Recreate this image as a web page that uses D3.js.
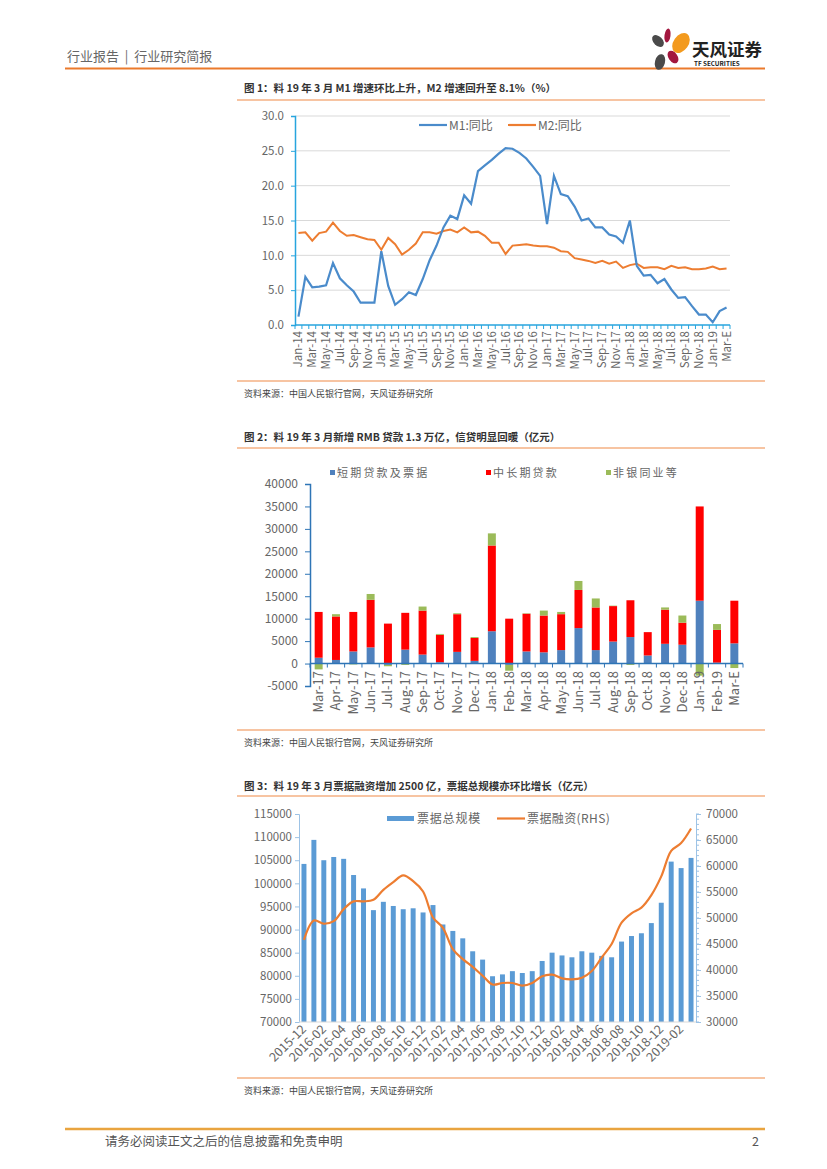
<!DOCTYPE html>
<html><head><meta charset="utf-8">
<script src="https://cdn.jsdelivr.net/npm/d3@7"></script>
<style>
body{margin:0;background:#fff}
svg{display:block}
text{font-family:"Noto Sans CJK SC","Noto Sans",sans-serif}
</style>
</head><body>
<svg id="c" width="827" height="1169"></svg>
<script>
// ---------- Chart 1 data ----------
const c1Months = ["Jan-14","Feb-14","Mar-14","Apr-14","May-14","Jun-14","Jul-14","Aug-14","Sep-14","Oct-14","Nov-14","Dec-14",
"Jan-15","Feb-15","Mar-15","Apr-15","May-15","Jun-15","Jul-15","Aug-15","Sep-15","Oct-15","Nov-15","Dec-15",
"Jan-16","Feb-16","Mar-16","Apr-16","May-16","Jun-16","Jul-16","Aug-16","Sep-16","Oct-16","Nov-16","Dec-16",
"Jan-17","Feb-17","Mar-17","Apr-17","May-17","Jun-17","Jul-17","Aug-17","Sep-17","Oct-17","Nov-17","Dec-17",
"Jan-18","Feb-18","Mar-18","Apr-18","May-18","Jun-18","Jul-18","Aug-18","Sep-18","Oct-18","Nov-18","Dec-18",
"Jan-19","Feb-19","Mar-E"];
const m1Values = [1.2,6.9,5.4,5.5,5.7,8.9,6.7,5.7,4.8,3.2,3.2,3.2,
10.6,5.6,2.9,3.7,4.7,4.3,6.6,9.3,11.4,14.0,15.7,15.2,
18.6,17.4,22.1,22.9,23.7,24.6,25.4,25.3,24.7,23.9,22.7,21.4,
14.5,21.4,18.8,18.5,17.0,15.0,15.3,14.0,14.0,13.0,12.7,11.8,
15.0,8.5,7.1,7.2,6.0,6.6,5.1,3.9,4.0,2.7,1.5,1.5,
0.4,2.0,2.5];
const m2Values = [13.2,13.3,12.1,13.2,13.4,14.7,13.5,12.8,12.9,12.6,12.3,12.2,
10.8,12.5,11.6,10.1,10.8,11.7,13.3,13.3,13.1,13.5,13.7,13.3,
14.0,13.3,13.4,12.8,11.8,11.8,10.2,11.4,11.5,11.6,11.4,11.3,
11.3,11.1,10.6,10.5,9.6,9.4,9.2,8.9,9.2,8.8,9.1,8.2,
8.6,8.8,8.2,8.3,8.3,8.0,8.5,8.2,8.3,8.0,8.0,8.1,
8.4,8.0,8.1];
const c1Ticks = [0,5,10,15,20,25,30];

// ---------- Chart 2 data ----------
const c2Months = ["Mar-17","Apr-17","May-17","Jun-17","Jul-17","Aug-17","Sep-17","Oct-17","Nov-17","Dec-17",
"Jan-18","Feb-18","Mar-18","Apr-18","May-18","Jun-18","Jul-18","Aug-18","Sep-18","Oct-18","Nov-18","Dec-18",
"Jan-19","Feb-19","Mar-E"];
const shortLoans = [1300,800,2700,3600,-300,3100,2000,300,2600,600,7200,-300,2700,2500,3000,7900,3000,4900,5900,1800,4400,4200,14000,200,4500];
const longLoans  = [10200,9700,8800,10600,8900,8200,9800,6100,8400,5100,19100,10000,8400,8200,8000,8500,9500,7900,8200,5200,7600,4900,21000,7300,9500];
const nonBank    = [-1300,500,-200,1300,-300,-300,900,200,200,200,2700,-1300,100,1100,500,2000,2000,100,-300,0,500,1600,-2700,1300,-1000];
const c2Ticks = [-5000,0,5000,10000,15000,20000,25000,30000,35000,40000];
const c2Legend = ["短期贷款及票据","中长期贷款","非银同业等"];

// ---------- Chart 3 data ----------
const c3Months = ["2015-12","2016-01","2016-02","2016-03","2016-04","2016-05","2016-06","2016-07","2016-08","2016-09","2016-10","2016-11","2016-12",
"2017-01","2017-02","2017-03","2017-04","2017-05","2017-06","2017-07","2017-08","2017-09","2017-10","2017-11","2017-12",
"2018-01","2018-02","2018-03","2018-04","2018-05","2018-06","2018-07","2018-08","2018-09","2018-10","2018-11","2018-12",
"2019-01","2019-02","2019-03"];
const billTotal = [104200,109400,105000,105700,105300,101800,98900,94200,96000,95100,94400,94600,93700,
95300,91100,89700,88100,85300,83500,79900,80300,81000,80600,81000,83200,
85000,84400,84000,85300,85000,84300,84000,87400,88600,89200,91400,95800,
104700,103300,105500];
const billFinance = [45800,49500,48900,49400,51700,53200,53200,53500,55400,56900,58200,57100,55100,
50100,48100,44000,42100,40600,38900,37200,37500,37500,37000,37500,38800,
39100,38400,38200,38500,39800,42400,45000,49100,50900,52000,54400,58000,
62900,64400,67200];
const c3LeftTicks = [70000,75000,80000,85000,90000,95000,100000,105000,110000,115000];
const c3RightTicks = [30000,35000,40000,45000,50000,55000,60000,65000,70000];

// ---------- drawing ----------
const svg = d3.select("#c");
const gray = "#595959";
const sepColor = "#F4B183";

// Header
svg.append("text").attr("x",67).attr("y",61).attr("font-size",13).attr("fill","#666").attr("xml:space","preserve").text("行业报告  |  行业研究简报");
svg.append("line").attr("x1",65).attr("x2",765).attr("y1",68.5).attr("y2",68.5).attr("stroke","#EB7A2C").attr("stroke-width",2);
// logo
const logo = svg.append("g");
logo.append("ellipse").attr("cx",658).attr("cy",41).attr("rx",4.5).attr("ry",7).attr("transform","rotate(-45 658 41)").attr("fill","#4a4a4a");
logo.append("ellipse").attr("cx",667.5).attr("cy",35.5).attr("rx",3).attr("ry",7).attr("transform","rotate(8 667.5 35.5)").attr("fill","#A3173F");
logo.append("ellipse").attr("cx",681).attr("cy",43).attr("rx",7.5).attr("ry",11).attr("transform","rotate(35 681 43)").attr("fill","#F39A1E");
logo.append("ellipse").attr("cx",673).attr("cy",57).attr("rx",4.5).attr("ry",7).attr("transform","rotate(-35 673 57)").attr("fill","#A3173F");
logo.append("ellipse").attr("cx",660).attr("cy",62).attr("rx",5).attr("ry",8).attr("transform","rotate(15 660 62)").attr("fill","#4a4a4a");
svg.append("text").attr("x",692).attr("y",56).attr("font-size",17.5).attr("font-weight","bold").attr("fill","#222").text("天风证券");
svg.append("text").attr("x",694).attr("y",66).attr("font-size",6.3).attr("font-weight","bold").attr("fill","#222").attr("font-family","Liberation Sans").text("TF SECURITIES");

// Footer
svg.append("line").attr("x1",65).attr("x2",765).attr("y1",1129).attr("y2",1129).attr("stroke","#E9A43F").attr("stroke-width",2.5);
svg.append("text").attr("x",105).attr("y",1146).attr("font-size",12.5).attr("fill","#555").text("请务必阅读正文之后的信息披露和免责申明");
svg.append("text").attr("x",752).attr("y",1146).attr("font-size",12.5).attr("fill","#555").text("2");

function titleBlock(y, text, lineY){
  svg.append("text").attr("x",244).attr("y",y).attr("font-size",10.5).attr("font-weight","bold").attr("fill","#333").text(text);
  svg.append("line").attr("x1",237).attr("x2",765).attr("y1",lineY).attr("y2",lineY).attr("stroke",sepColor).attr("stroke-width",1.3);
}
function sourceBlock(lineY, y){
  svg.append("line").attr("x1",237).attr("x2",765).attr("y1",lineY).attr("y2",lineY).attr("stroke",sepColor).attr("stroke-width",1.3);
  svg.append("text").attr("x",244).attr("y",y).attr("font-size",9).attr("fill","#444").text("资料来源：中国人民银行官网，天风证券研究所");
}

// ===== Chart 1 =====
titleBlock(92, "图 1：料 19 年 3 月 M1 增速环比上升，M2 增速回升至 8.1%（%）", 100);
sourceBlock(381, 397);
{
  const x = d3.scaleBand().domain(c1Months).range([295,730]);
  const y = d3.scaleLinear().domain([0,30]).range([325,116]);
  const g = svg.append("g");
  g.selectAll("line.grid").data(c1Ticks.filter(d=>d>0)).join("line")
    .attr("x1",295).attr("x2",730).attr("y1",d=>y(d)).attr("y2",d=>y(d)).attr("stroke","#D9D9D9").attr("stroke-width",1);
  const ya = d3.axisLeft(y).tickValues(c1Ticks).tickFormat(d3.format(".1f")).tickSize(4).tickPadding(7);
  const yg = g.append("g").attr("transform","translate(295,0)").call(ya);
  yg.select(".domain").attr("stroke","#27A5DE").attr("stroke-width",1.5);
  yg.selectAll(".tick line").attr("stroke","#27A5DE");
  yg.selectAll("text").attr("font-size",11.5).attr("fill","#666").attr("font-family","Noto Sans");
  // x axis
  g.append("line").attr("x1",295).attr("x2",730).attr("y1",325).attr("y2",325).attr("stroke","#27A5DE").attr("stroke-width",1.5);
  g.selectAll("line.xt").data(c1Months.concat(["_end"])).join("line")
    .attr("x1",(d,i)=>295+i*x.bandwidth()).attr("x2",(d,i)=>295+i*x.bandwidth())
    .attr("y1",325).attr("y2",329).attr("stroke","#27A5DE").attr("stroke-width",1);
  g.selectAll("text.xl").data(c1Months.filter((d,i)=>i%2===0)).join("text")
    .attr("transform",d=>`translate(${x(d)+x.bandwidth()/2+4},331) rotate(-90)`)
    .attr("text-anchor","end").attr("font-size",11.5).attr("fill","#666").attr("font-family","Noto Sans").text(d=>d);
  const line = d3.line().x((d,i)=>x(c1Months[i])+x.bandwidth()/2).y(d=>y(d));
  g.append("path").attr("d",line(m2Values)).attr("fill","none").attr("stroke","#ED7D31").attr("stroke-width",2);
  g.append("path").attr("d",line(m1Values)).attr("fill","none").attr("stroke","#4A8BCB").attr("stroke-width",2.2);
  // legend
  g.append("line").attr("x1",419).attr("x2",447).attr("y1",125).attr("y2",125).attr("stroke","#4A8BCB").attr("stroke-width",2.2);
  g.append("text").attr("x",449).attr("y",129.5).attr("font-size",12).attr("fill","#666").text("M1:同比");
  g.append("line").attr("x1",508).attr("x2",536).attr("y1",125).attr("y2",125).attr("stroke","#ED7D31").attr("stroke-width",2.2);
  g.append("text").attr("x",538).attr("y",129.5).attr("font-size",12).attr("fill","#666").text("M2:同比");
}

// ===== Chart 2 =====
titleBlock(441, "图 2：料 19 年 3 月新增 RMB 贷款 1.3 万亿，信贷明显回暖（亿元）", 448);
sourceBlock(730, 746);
{
  const x = d3.scaleBand().domain(c2Months).range([310,743]).paddingInner(0.54).paddingOuter(0.27);
  const xb = d3.scaleBand().domain(c2Months).range([310,743]);
  const y = d3.scaleLinear().domain([-5000,40000]).range([686,484]);
  const colors = ["#4F81BD","#FF0000","#9BBB59"];
  const rows = c2Months.map((m,i)=>({m, s:shortLoans[i], l:longLoans[i], n:nonBank[i]}));
  const series = d3.stack().keys(["s","l","n"]).offset(d3.stackOffsetDiverging)(rows);
  const g = svg.append("g");
  series.forEach((s,k)=>{
    g.selectAll(null).data(s).join("rect")
      .attr("x",d=>x(d.data.m)).attr("width",x.bandwidth())
      .attr("y",d=>y(Math.max(d[0],d[1]))).attr("height",d=>Math.abs(y(d[0])-y(d[1])))
      .attr("fill",colors[k]);
  });
  const ya = d3.axisLeft(y).tickValues(c2Ticks).tickFormat(d=>d).tickSize(5).tickPadding(7);
  const yg = g.append("g").attr("transform","translate(310,0)").call(ya);
  yg.select(".domain").attr("stroke","#2E75B6").attr("stroke-width",1.5);
  yg.selectAll(".tick line").attr("stroke","#2E75B6");
  yg.selectAll("text").attr("font-size",12).attr("fill","#666").attr("font-family","Noto Sans");
  g.append("line").attr("x1",310).attr("x2",743).attr("y1",y(0)).attr("y2",y(0)).attr("stroke","#2E75B6").attr("stroke-width",1.5);
  g.selectAll("line.xt").data(c2Months.concat(["_e"])).join("line")
    .attr("x1",(d,i)=>310+i*xb.bandwidth()).attr("x2",(d,i)=>310+i*xb.bandwidth())
    .attr("y1",y(0)).attr("y2",y(0)+4).attr("stroke","#2E75B6");
  g.selectAll("text.xl").data(c2Months).join("text")
    .attr("transform",d=>`translate(${xb(d)+xb.bandwidth()/2+4.5},671) rotate(-90)`)
    .attr("text-anchor","end").attr("font-size",13).attr("fill","#666").attr("font-family","Noto Sans").text(d=>d);
  // legend
  const lx = [330,486,606];
  c2Legend.forEach((t,i)=>{
    g.append("rect").attr("x",lx[i]).attr("y",470).attr("width",5).attr("height",5).attr("fill",colors[i]);
    g.append("text").attr("x",lx[i]+7).attr("y",477).attr("font-size",11).attr("letter-spacing",2.2).attr("fill","#666").text(t);
  });
}

// ===== Chart 3 =====
titleBlock(790, "图 3：料 19 年 3 月票据融资增加 2500 亿，票据总规模亦环比增长（亿元）", 796);
sourceBlock(1078, 1094);
{
  const xb = d3.scaleBand().domain(c3Months).range([299,696]);
  const x = d3.scaleBand().domain(c3Months).range([299,696]).paddingInner(0.5).paddingOuter(0.25);
  const yl = d3.scaleLinear().domain([70000,115000]).range([1022,814]);
  const yr = d3.scaleLinear().domain([30000,70000]).range([1022,814]);
  const g = svg.append("g");
  g.selectAll("rect").data(billTotal).join("rect")
    .attr("x",(d,i)=>x(c3Months[i])).attr("width",x.bandwidth())
    .attr("y",d=>yl(d)).attr("height",d=>yl(70000)-yl(d)).attr("fill","#5B9BD5");
  const line = d3.line().x((d,i)=>xb(c3Months[i])+xb.bandwidth()/2).y(d=>yr(d)).curve(d3.curveCatmullRom.alpha(0.5));
  g.append("path").attr("d",line(billFinance)).attr("fill","none").attr("stroke","#ED7D31").attr("stroke-width",2.2);
  const yla = d3.axisLeft(yl).tickValues(c3LeftTicks).tickFormat(d=>d).tickSize(4).tickPadding(3);
  const ylg = g.append("g").attr("transform","translate(299,0)").call(yla);
  ylg.select(".domain").attr("stroke","#9DC3E6");
  ylg.selectAll(".tick line").attr("stroke","#9DC3E6");
  ylg.selectAll("text").attr("font-size",11.5).attr("fill","#666").attr("font-family","Noto Sans");
  // right axis minor ticks
  g.selectAll("line.minor").data(d3.range(30000,70001,1000)).join("line")
    .attr("x1",696).attr("x2",699).attr("y1",d=>yr(d)).attr("y2",d=>yr(d)).attr("stroke","#9DC3E6");
  const yra = d3.axisRight(yr).tickValues(c3RightTicks).tickFormat(d=>d).tickSize(5).tickPadding(5);
  const yrg = g.append("g").attr("transform","translate(696,0)").call(yra);
  yrg.select(".domain").attr("stroke","#9DC3E6");
  yrg.selectAll(".tick line").attr("stroke","#9DC3E6");
  yrg.selectAll("text").attr("font-size",11.5).attr("fill","#666").attr("font-family","Noto Sans");
  g.append("line").attr("x1",299).attr("x2",696).attr("y1",1022).attr("y2",1022).attr("stroke","#D9D9D9");
  g.selectAll("text.xl").data(c3Months.filter((d,i)=>i%2===0)).join("text")
    .attr("transform",d=>`translate(${xb(d)+xb.bandwidth()/2+3},1030) rotate(-45)`)
    .attr("text-anchor","end").attr("font-size",12.5).attr("fill","#666").attr("font-family","Noto Sans").text(d=>d);
  // legend
  g.append("rect").attr("x",387).attr("y",816).attr("width",27).attr("height",5).attr("fill","#5B9BD5");
  g.append("text").attr("x",417).attr("y",823).attr("font-size",12).attr("letter-spacing",0.8).attr("fill","#666").text("票据总规模");
  g.append("line").attr("x1",497).attr("x2",525).attr("y1",818.5).attr("y2",818.5).attr("stroke","#ED7D31").attr("stroke-width",2.2);
  g.append("text").attr("x",527).attr("y",823).attr("font-size",12).attr("letter-spacing",0.4).attr("fill","#666").text("票据融资(RHS)");
}
</script>
</body></html>
